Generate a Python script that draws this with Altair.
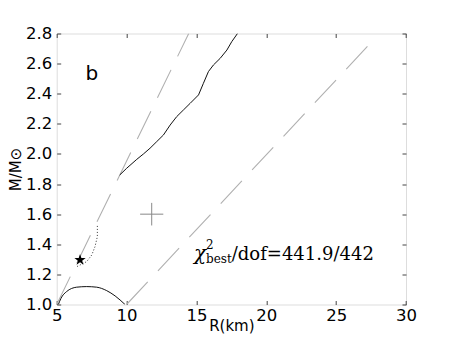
import altair as alt
import pandas as pd

# ---- data ----
dash_a_R = [5.0, 14.45]
dash_a_M = [1.0, 2.8]
dash_b_R = [10.0, 27.6]
dash_b_M = [1.0, 2.75]

upper_R = [9.51, 10.01, 10.73, 11.21, 11.68, 12.16, 12.64, 13.12, 13.59, 14.07,
           14.55, 15.15, 15.5, 15.86, 16.22, 16.7, 17.18, 17.53, 17.94]
upper_M = [1.86, 1.905, 1.964, 2.0, 2.038, 2.082, 2.126, 2.192, 2.248, 2.292,
           2.336, 2.392, 2.469, 2.547, 2.591, 2.635, 2.69, 2.746, 2.8]

lower_R = [5.12, 5.3, 5.71, 6.43, 7.15, 7.86, 8.58, 9.18, 9.89]
lower_M = [1.0, 1.04, 1.086, 1.115, 1.119, 1.115, 1.092, 1.057, 1.0]

dot_R = [7.91, 7.91, 7.74, 7.51, 7.15, 6.43]
dot_M = [1.522, 1.451, 1.384, 1.329, 1.285, 1.251]

star_R = [6.67]
star_M = [1.296]

cross_R = [11.8]
cross_M = [1.6]
cross_errR = [0.83]
cross_errM = [0.075]

panel_label = ["b"]
panel_R = [7.51]
panel_M = [2.491]

chi_R = [14.9]
chi_M = [1.296]

x_ticks = [5, 10, 15, 20, 25, 30]
y_ticks = [1.0, 1.2, 1.4, 1.6, 1.8, 2.0, 2.2, 2.4, 2.6, 2.8]

# ---- tables ----
def line_df(R, M):
    return pd.DataFrame({"R": R, "M": M, "i": list(range(len(R)))})

df_da = line_df(dash_a_R, dash_a_M)
df_db = line_df(dash_b_R, dash_b_M)
df_up = line_df(upper_R, upper_M)
df_lo = line_df(lower_R, lower_M)
df_dot = line_df(dot_R, dot_M)
df_star = pd.DataFrame({"R": star_R, "M": star_M})
df_cross = pd.DataFrame({
    "R": cross_R, "M": cross_M,
    "R1": [r - e for r, e in zip(cross_R, cross_errR)],
    "R2": [r + e for r, e in zip(cross_R, cross_errR)],
    "M1": [m - e for m, e in zip(cross_M, cross_errM)],
    "M2": [m + e for m, e in zip(cross_M, cross_errM)],
})
df_b = pd.DataFrame({"R": panel_R, "M": panel_M, "t": panel_label})
df_chi = pd.DataFrame({"R": chi_R, "M": chi_M})

xs = alt.Scale(domain=[5, 30], nice=False, zero=False)
ys = alt.Scale(domain=[1.0, 2.8], nice=False, zero=False)

FONT = "DejaVu Sans"
TICK = "#444444"

x_main = alt.Axis(orient="bottom", values=x_ticks, format="d", grid=False, domain=False,
                  tickSize=4, offset=-4, tickColor=TICK, labelPadding=3,
                  labelFontSize=16.5, labelFont=FONT, labelColor="black",
                  labelFlush=False, labelOverlap=False,
                  title="R(km)", titleFont=FONT, titleFontSize=15, titleFontWeight="normal",
                  titleColor="black", titlePadding=-6)
y_main = alt.Axis(orient="left", values=y_ticks, format=".1f", grid=False, domain=False,
                  tickSize=4, offset=-4, tickColor=TICK, labelPadding=5,
                  labelFontSize=16.5, labelFont=FONT, labelColor="black",
                  labelFlush=False, labelOverlap=False,
                  title="M/M⊙", titleFont=FONT, titleFontSize=15, titleFontWeight="normal",
                  titleColor="black", titlePadding=2)
x_top = alt.Axis(orient="top", values=x_ticks, grid=False, domain=False, labels=False,
                 tickSize=4, offset=-4, tickColor=TICK, title=None)
y_right = alt.Axis(orient="right", values=y_ticks, grid=False, domain=False, labels=False,
                   tickSize=4, offset=-4, tickColor=TICK, title=None)


def enc_line(axes=None):
    xa, ya = (axes if axes else (None, None))
    return dict(
        x=alt.X("R:Q", scale=xs, axis=xa),
        y=alt.Y("M:Q", scale=ys, axis=ya),
        order="i:Q",
    )

DASH = "#b0b0b0"
dash_a = alt.Chart(df_da).mark_line(color=DASH, strokeWidth=1.1, strokeDash=[31, 15], clip=True).encode(
    **enc_line((x_main, y_main)))
dash_b = alt.Chart(df_db).mark_line(color=DASH, strokeWidth=1.1, strokeDash=[31, 15], clip=True).encode(
    **enc_line((x_top, y_right)))
upper = alt.Chart(df_up).mark_line(color="#111111", strokeWidth=1, clip=True).encode(**enc_line())
lower = alt.Chart(df_lo).mark_line(color="#111111", strokeWidth=1, clip=True, interpolate="monotone").encode(**enc_line())
dotted = alt.Chart(df_dot).mark_line(color="#333333", strokeWidth=1, strokeDash=[1, 2], clip=True).encode(**enc_line())

star_path = ("M0,-1 L0.2245,-0.309 L0.951,-0.309 L0.363,0.118 L0.588,0.809 "
             "L0,0.382 L-0.588,0.809 L-0.363,0.118 L-0.951,-0.309 L-0.2245,-0.309 Z")
star = alt.Chart(df_star).mark_point(shape=star_path, filled=True, color="black", size=140, opacity=1).encode(
    x=alt.X("R:Q", scale=xs, axis=None), y=alt.Y("M:Q", scale=ys, axis=None))

cross_h = alt.Chart(df_cross).mark_rule(color="#888888", strokeWidth=1).encode(
    x=alt.X("R1:Q", scale=xs, axis=None), x2="R2:Q", y=alt.Y("M:Q", scale=ys, axis=None))
cross_v = alt.Chart(df_cross).mark_rule(color="#888888", strokeWidth=1).encode(
    x=alt.X("R:Q", scale=xs, axis=None), y=alt.Y("M1:Q", scale=ys, axis=None), y2="M2:Q")

b_text = alt.Chart(df_b).mark_text(font=FONT, fontSize=20, align="center", baseline="alphabetic", color="black").encode(
    x=alt.X("R:Q", scale=xs, axis=None), y=alt.Y("M:Q", scale=ys, axis=None), text="t:N")

def chi_piece(txt, dx, dy, size, style="normal"):
    return alt.Chart(df_chi).mark_text(text=txt, font="DejaVu Serif", fontSize=size, fontStyle=style,
                                       align="left", baseline="alphabetic", dx=dx, dy=dy, color="black").encode(
        x=alt.X("R:Q", scale=xs, axis=None), y=alt.Y("M:Q", scale=ys, axis=None))

chi_layers = [
    chi_piece("χ", -1, 0, 20, "italic"),
    chi_piece("2", 11, -11, 12),
    chi_piece("best", 11, 3, 12),
    chi_piece("/dof=441.9/442", 36.7, 0, 18),
]

chart = alt.layer(dash_a, dash_b, upper, lower, dotted, cross_h, cross_v, star, b_text, *chi_layers).resolve_axis(
    x="independent", y="independent"
).properties(
    width=349.3, height=271,
    autosize=alt.AutoSizeParams(type="none"),
    padding={"left": 48.7, "top": 25.5, "right": 38, "bottom": 31},
).configure_view(stroke="#444444", strokeWidth=1.2).configure(background="white")

chart.save("out.html", embed_options={"renderer": "svg", "actions": False})
